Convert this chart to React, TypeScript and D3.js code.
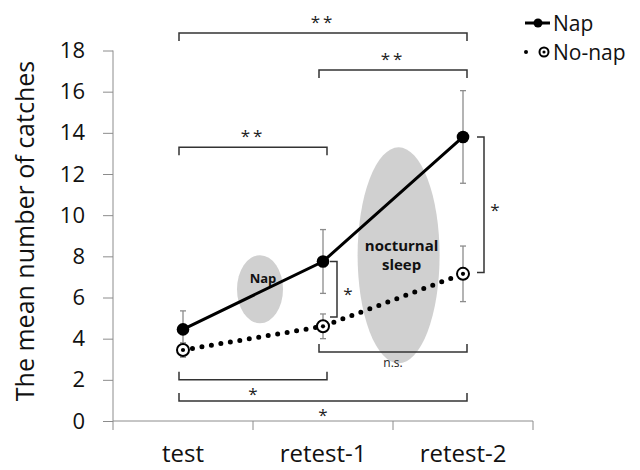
import React, { useEffect, useRef } from 'react';
import * as d3 from 'd3';

const categories = ['test', 'retest-1', 'retest-2'];
const napMean = [4.45, 7.75, 13.8];
const napErr = [0.9, 1.55, 2.25];
const noNapMean = [3.45, 4.6, 7.15];
const noNapErr = [0.35, 0.6, 1.35];
const yTicks = [0, 2, 4, 6, 8, 10, 12, 14, 16, 18];

// horizontal significance brackets: from / to category index, level, label, which side the ends point
const brackets = [
  { from: 0, to: 2, level: 18.85, label: '**', dir: 1 },
  { from: 1, to: 2, level: 17.05, label: '**', dir: 1 },
  { from: 0, to: 1, level: 13.3, label: '**', dir: 1 },
  { from: 1, to: 2, level: 3.35, label: 'n.s.', dir: -1 },
  { from: 0, to: 1, level: 2.0, label: '*', dir: -1 },
  { from: 0, to: 2, level: 0.97, label: '*', dir: -1 },
];

// vertical brackets between groups at one time point
const vBrackets = [
  { cat: 1, top: 7.75, bottom: 5.05, label: '*' },
  { cat: 2, top: 13.8, bottom: 7.22, label: '*' },
];

const ellipses = [
  { label: ['Nap'], between: 0.55, value: 6.4, rx: 23, ry: 34, size: 13, shift: -11 },
  { label: ['nocturnal', 'sleep'], between: 1.54, value: 8.05, rx: 41, ry: 108, size: 15, shift: 0 },
];

const font = '"Open Sans", sans-serif';

export default function App() {
  const svgRef = useRef<SVGSVGElement>(null);

  useEffect(() => {
    document.body.style.margin = '0';
    if (!svgRef.current) return;
    const svg = d3.select(svgRef.current);
    svg.selectAll('*').remove();

    const x = d3.scaleBand().domain(categories).range([113, 533]);
    const cx = (i: number) => (x(categories[i]) as number) + x.bandwidth() / 2;
    const y = d3.scaleLinear().domain([0, 18]).range([421, 50.5]);

    // y axis
    const yAxis = svg.append('g').attr('transform', 'translate(113,0)')
      .call(d3.axisLeft(y).tickValues(yTicks).tickSize(10).tickPadding(18));
    yAxis.select('.domain').attr('stroke', '#8c8c8c').attr('d', `M0,${y(18)}V${y(0)}`);
    yAxis.selectAll('.tick line').attr('stroke', '#8c8c8c');
    yAxis.selectAll('.tick text').attr('font-family', font).attr('font-size', 22).attr('fill', '#111');

    // x axis
    const xAxis = svg.append('g').attr('transform', `translate(0,${y(0)})`)
      .call(d3.axisBottom(x).tickSize(0).tickPadding(24));
    xAxis.select('.domain').attr('stroke', '#8c8c8c').attr('d', `M113,0H533`);
    xAxis.selectAll('.tick text').attr('font-family', font).attr('font-size', 24).attr('fill', '#111');
    const edges = [113, ...categories.map((c) => (x(c) as number) + x.bandwidth())];
    svg.append('g').selectAll('line').data(edges).enter().append('line')
      .attr('x1', (d) => d).attr('x2', (d) => d)
      .attr('y1', y(0)).attr('y2', y(0) + 9)
      .attr('stroke', '#8c8c8c');

    svg.append('text')
      .attr('transform', 'translate(34,231) rotate(-90)')
      .attr('text-anchor', 'middle')
      .attr('font-family', font).attr('font-size', 25).attr('fill', '#111')
      .text('The mean number of catches');

    // grey ellipses
    ellipses.forEach((e) => {
      const ex = 113 + x.bandwidth() * (e.between + 0.5);
      const ey = y(e.value);
      svg.append('ellipse').attr('cx', ex).attr('cy', ey).attr('rx', e.rx).attr('ry', e.ry).attr('fill', '#d0d0d0');
      e.label.forEach((t, k) => {
        svg.append('text').attr('x', ex + 3).attr('y', ey + e.shift - (e.label.length - 1) * 9 + k * 19 + 5)
          .attr('text-anchor', 'middle').attr('font-family', font).attr('font-weight', 'bold')
          .attr('font-size', e.size).attr('fill', '#111').text(t);
      });
    });

    // brackets
    const bk = svg.append('g').attr('stroke', '#333').attr('stroke-width', 1.5).attr('fill', 'none');
    brackets.forEach((b) => {
      const x1 = cx(b.from) - 4;
      const x2 = cx(b.to) + 4;
      const yy = y(b.level);
      const t = 8 * b.dir;
      bk.append('path').attr('d', `M${x1},${yy + t}V${yy}H${x2}V${yy + t}`);
      svg.append('text')
        .attr('x', (x1 + x2) / 2)
        .attr('y', b.dir > 0 ? yy - 5 : yy + (b.label === 'n.s.' ? 15 : 20))
        .attr('text-anchor', 'middle')
        .attr('font-family', font)
        .attr('font-size', b.label === 'n.s.' ? 12 : 17)
        .attr('letter-spacing', b.label === '**' ? 3 : 0)
        .attr('fill', '#222').text(b.label);
    });
    vBrackets.forEach((b, i) => {
      const bx = cx(b.cat) + (i === 0 ? 14 : 21);
      bk.append('path').attr('d', `M${bx - 7},${y(b.top)}H${bx}V${y(b.bottom)}H${bx - 7}`);
      svg.append('text').attr('x', bx + 11).attr('y', (y(b.top) + y(b.bottom)) / 2 + 11)
        .attr('text-anchor', 'middle').attr('font-family', font).attr('font-size', 17)
        .attr('fill', '#222').text(b.label);
    });

    // error bars
    const drawErr = (mean: number[], err: number[]) => {
      const g = svg.append('g').attr('stroke', '#8c8c8c').attr('stroke-width', 1.3);
      mean.forEach((m, i) => {
        const px = cx(i);
        g.append('line').attr('x1', px).attr('x2', px).attr('y1', y(m + err[i])).attr('y2', y(m - err[i]));
        [m + err[i], m - err[i]].forEach((v) => {
          g.append('line').attr('x1', px - 3).attr('x2', px + 3).attr('y1', y(v)).attr('y2', y(v));
        });
      });
    };
    drawErr(napMean, napErr);
    drawErr(noNapMean, noNapErr);

    const line = d3.line<number>().x((_, i) => cx(i)).y((d) => y(d));

    svg.append('path').datum(noNapMean).attr('d', line)
      .attr('fill', 'none').attr('stroke', '#000').attr('stroke-width', 5)
      .attr('stroke-linecap', 'round').attr('stroke-dasharray', '0 9.6');
    svg.append('path').datum(napMean).attr('d', line)
      .attr('fill', 'none').attr('stroke', '#000').attr('stroke-width', 3);

    const openMarker = (g: d3.Selection<SVGGElement, unknown, null, undefined>, px: number, py: number, r: number) => {
      g.append('circle').attr('cx', px).attr('cy', py).attr('r', r).attr('fill', '#fff').attr('stroke', '#000').attr('stroke-width', 2);
      g.append('circle').attr('cx', px).attr('cy', py).attr('r', r * 0.35).attr('fill', '#000');
    };

    const mk = svg.append('g');
    napMean.forEach((m, i) => {
      mk.append('circle').attr('cx', cx(i)).attr('cy', y(m)).attr('r', 6.3).attr('fill', '#000');
    });
    noNapMean.forEach((m, i) => openMarker(mk, cx(i), y(m), 6));

    // legend
    const lg = svg.append('g').attr('font-family', font).attr('font-size', 21).attr('fill', '#111');
    lg.append('line').attr('x1', 525).attr('x2', 550).attr('y1', 23).attr('y2', 23).attr('stroke', '#000').attr('stroke-width', 3);
    lg.append('circle').attr('cx', 538).attr('cy', 23).attr('r', 4.5).attr('fill', '#000');
    lg.append('text').attr('x', 553).attr('y', 31).text('Nap');
    lg.append('circle').attr('cx', 526).attr('cy', 52).attr('r', 2).attr('fill', '#000');
    openMarker(lg, 544, 52, 4.5);
    lg.append('text').attr('x', 553).attr('y', 60).text('No-nap');
  }, []);

  return <svg ref={svgRef} width={640} height={470} style={{ display: 'block', background: '#fff' }} />;
}
